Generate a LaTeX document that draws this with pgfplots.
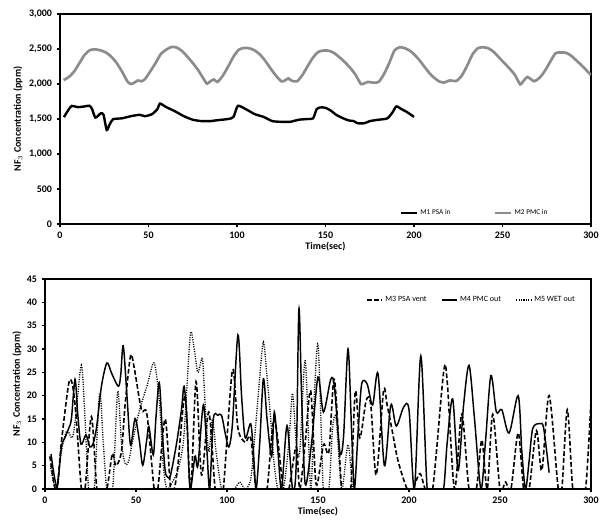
\documentclass[border=0pt]{standalone}
\usepackage{pgfplots}
\pgfplotsset{compat=1.18}
\usepackage{fontspec}
\setmainfont{Carlito}

% measurements are taken in reference pixels, 1px = 0.75pt
\pgfplotsset{
  every axis/.append style={
    scale only axis,
    axis line style={line width=1pt},
    tick pos=left, tick align=outside,
    major tick length=2.5pt,
    every tick/.style={black, line width=0.8pt},
    xmin=0, xmax=300, xtick={0,50,...,300},
    tick label style={font=\bfseries\fontsize{7.5}{8}\selectfont},
    label style={font=\bfseries\fontsize{7.5}{8}\selectfont},
    /pgf/number format/assume math mode=true,
    /pgf/number format/1000 sep={,},
    legend cell align=left,
    clip=true,
  },
}

\begin{document}
\begin{tikzpicture}
\useasboundingbox (0,0) rectangle (458.25pt,-391.5pt);

% ---- top panel: inlet concentrations
\begin{axis}[
    at={(45pt,-168pt)}, anchor=south west,
    width=398.25pt, height=157.5pt,
    ymin=0, ymax=3000, ytick={0,500,...,3000},
    xlabel={Time(sec)},
    ylabel={NF$_3$ Concentration (ppm)},
    xlabel style={at={(axis description cs:0.5,-0.105)}, anchor=center},
    ylabel style={at={(axis description cs:-0.079,0.5)}, anchor=center},
    legend columns=2,
    legend style={draw=none, fill=none, at={(axis description cs:0.781,0.052)}, anchor=center,
        font=\fontsize{5.5}{6}\selectfont,
        /tikz/every even column/.append style={column sep=30pt}},
    legend image code/.code={\draw[#1] (0pt,0pt) -- (12pt,0pt);},
]
\addplot[black, line width=1.8pt, smooth, tension=0.4] coordinates {
(2.2,1526)(4.5,1620)(6.6,1687)(10,1670)(14,1680)(16.5,1690)(18,1650)(20,1521)(23,1580)(24.6,1560)
(26.4,1343)(28,1420)(30,1497)(35,1510)(40,1540)(45,1560)(48,1540)(52,1570)(55,1640)(56.5,1720)
(60,1670)(65,1610)(70,1540)(75,1490)(80,1470)(85,1470)(88,1480)(95,1500)(98,1530)(100.5,1687)
(105,1640)(110,1570)(115,1530)(120,1470)(125,1460)(130,1460)(135,1490)(140,1500)(143,1510)(145,1640)
(147,1665)(150,1660)(153,1620)(156,1560)(160,1510)(163,1480)(166,1470)(168,1440)(172,1440)(175,1470)
(180,1490)(185,1510)(188,1600)(190,1680)(193,1640)(196,1600)(200,1530)
};
\addlegendentry{M1 PSA in}
\addplot[color={rgb,255:red,140;green,140;blue,140}, line width=2pt, smooth, tension=0.4] coordinates {
(2,2057)(5,2100)(8,2180)(11,2300)(14,2420)(17,2485)(20,2495)(23,2480)(26,2450)(29,2390)
(32,2300)(35,2180)(38,2040)(40,2000)(42,2020)(44,2050)(46,2040)(48,2070)(51,2180)(54,2300)
(57,2430)(60,2490)(63,2530)(66,2520)(69,2470)(72,2390)(75,2300)(78,2200)(81,2080)(83,2005)
(85,2040)(87,2065)(89,2030)(92,2120)(95,2250)(98,2390)(101,2490)(104,2515)(107,2510)(110,2480)
(113,2420)(116,2330)(119,2220)(122,2120)(125,2040)(127,2050)(129,2080)(131,2045)(134,2040)(137,2130)
(140,2260)(143,2380)(146,2460)(149,2478)(152,2475)(155,2440)(158,2380)(161,2310)(164,2230)(167,2130)
(170,2000)(172,2010)(174,2030)(177,2020)(180,2030)(183,2140)(186,2300)(189,2480)(192,2525)(195,2510)
(198,2470)(201,2400)(204,2310)(207,2210)(210,2120)(214,2040)(217,2020)(220,2050)(224,2045)(227,2120)
(230,2260)(233,2420)(236,2510)(239,2525)(242,2510)(245,2460)(248,2380)(251,2300)(254,2220)(257,2130)
(260,1995)(262,2050)(264,2100)(266,2070)(268,2040)(271,2090)(274,2190)(277,2320)(280,2440)(283,2450)
(286,2445)(289,2400)(292,2330)(295,2260)(298,2180)(300,2130)
};
\addlegendentry{M2 PMC in}
\end{axis}

% ---- bottom panel: outlet concentrations
\begin{axis}[
    at={(33.75pt,-366.75pt)}, anchor=south west,
    width=409.5pt, height=157.5pt,
    ymin=0, ymax=45, ytick={0,5,...,45},
    xlabel={Time(sec)},
    ylabel={NF$_3$ Concentration (ppm)},
    xlabel style={at={(axis description cs:0.5,-0.105)}, anchor=center},
    ylabel style={at={(axis description cs:-0.0513,0.5)}, anchor=center},
    legend columns=3,
    legend style={draw=none, fill=none, at={(axis description cs:0.782,0.9)}, anchor=center,
        font=\fontsize{6}{7}\selectfont,
        /tikz/every even column/.append style={column sep=9pt}},
    legend image code/.code={\draw[#1] (0pt,0pt) -- (11pt,0pt);},
]
\addplot[black, line width=1.2pt, dash pattern=on 3.5pt off 1.8pt, smooth, tension=0.5] coordinates {
(2.7,7)(5.5,0)(7,1)(9,10)(13,22.5)(15,22.5)(17,16)(20,0)(22,0)(25.5,15.5)
(28.5,0)(31,0)(34,0)(37,7.5)(39,5)(42,8)(44,18)(47,28.5)(49,26)(53,17)
(56,16)(60,0)(62,0)(66,15)(69,0)(71,0)(73,5)(77,20)(80,0)(83,23)
(86,3)(90,16.5)(93.5,0)(96,0)(98,0)(103,25.5)(106,13)(110,10)(113,11)(116,0)
(119,0)(122,0)(126,15)(131,0)(134,0)(138,9)(140,0)(143,10)(146,21)(149,1)
(153,9.5)(156,8)(159,23.5)(163,0)(165,0)(168,0)(170.5,21)(173,11)(176.5,19)(179,18)
(182,3)(186,21)(188,18)(191,12)(194,6)(199,0)(202,0)(206,3.3)(209,0)(213,0)
(219,25)(221,23)(225,0)(229,16)(233,0)(237,0)(240,10.5)(243,0)(246,16)(250,0)
(253,1.5)(256,0)(260,12)(263,0)(266,0)(270,12.5)(273,4)(277,20)(282,0)(284,0)
(287,17)(290,0)(293,0)(297,0)(300,19)
};
\addlegendentry{M3 PSA vent}
\addplot[black, line width=1.1pt, smooth, tension=0.5] coordinates {
(3.3,7.5)(5,3)(6.8,0.5)(9,9)(11,11)(13,13)(14.5,15)(16.5,23.5)(18,16)(19.8,9.6)
(22.5,11.6)(24.7,9)(26.5,9.8)(28.4,13.4)(31,22)(34,27)(36.6,24.8)(40.3,22)(41.6,24.4)(43,30.7)
(45.2,19)(47,9.4)(49.5,15.1)(51.8,10.5)(53.7,5.1)(55.9,10.5)(57.1,13.4)(59.5,7.3)(61,15.5)(62.8,22.8)
(64.5,12)(66,4)(67.5,2.5)(69,3)(72.3,9.8)(75,17)(76.4,22)(78,15)(79.7,0)(82.4,7)
(84,5)(87,18)(89,8)(90.5,0)(92.5,15)(95,15.8)(97,15.8)(99,12)(101,9)(103,14)
(106,33)(108,20)(110,11)(113,14)(114.5,8)(116,0)(118,10)(120,23.6)(122,15)(124.5,7)
(126,16.5)(128,8)(130,0)(133,13.6)(136,0)(138,5)(139.5,38.5)(141,20)(143,1)(146.5,10)
(150,24)(153,16.5)(157,23.5)(159,22)(162,8)(164,11)(166.5,30)(168.5,12)(170,0)(172,12)
(174,22.5)(177,22.5)(180,18)(183,24.7)(186.5,5)(190,18)(193,13.5)(197,17.5)(200,17)(203,0)
(206.5,28.5)(210,0)(213,0)(216,0)(219,0)(221,10)(224,19.3)(227,4)(230,18)(233,26.5)
(236,15)(239.5,0)(242,10)(245,24.3)(248,16.5)(251,17)(255,12)(260,20)(262,8)(264,0)
(266,6)(268,13)(272,14)(274,13)(277,3.5)
};
\addlegendentry{M4 PMC out}
\addplot[black, line width=1pt, dash pattern=on 0.8pt off 1pt, smooth, tension=0.5] coordinates {
(3,5)(6,0)(9,8)(12,12.5)(15,11)(17,16)(20,26.5)(22,15)(24,0)(27,0)
(30,20.5)(32,10)(34,0)(37,0)(38,5.5)(40,21)(42,10)(44,5.5)(46,6)(48,10)
(52,17)(56,22)(60,27)(63,18)(65,5)(67,0)(70,1.5)(73,4)(76,10)(78,22)
(80,33.5)(82,30)(84,25)(86.5,27.8)(88,18)(90,8)(92,15)(94,8)(97,0)(100,0)
(104,0)(107,1.5)(110,0)(113,2)(115,10)(118,24)(120,31.5)(122,24)(124,15)(126,5)
(128,0)(131,0)(134,10)(136,20.5)(138,10)(140,8)(143,27.5)(146,0)(148,20)(150,31)
(152,10)(153,0)(156,0)(158,13)(160,15)(163,0)(166.5,9.5)(169,0)(170,0)
};
\addlegendentry{M5 WET out}
\end{axis}
\end{tikzpicture}
\end{document}
